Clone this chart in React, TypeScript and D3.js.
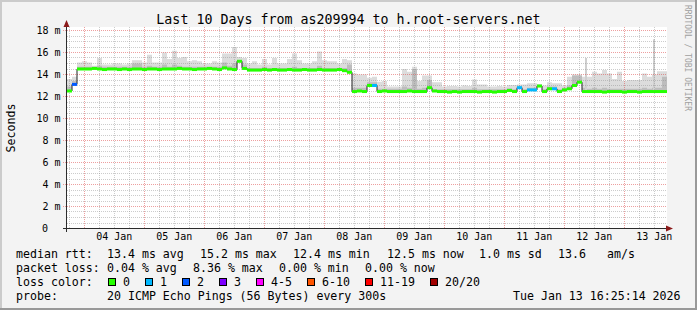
import React from "react";
import * as d3 from "d3";

// ---- data (values in milliseconds, one bin every 2 hours) ----
const startTime = new Date(Date.UTC(2026, 0, 3, 17, 5));
const endTime = new Date(Date.UTC(2026, 0, 13, 17, 5));
const binHours = 2;

const medianRtt = [
  12.5, 13.1, 14.5, 14.5, 14.5, 14.55, 14.5, 14.45, 14.5, 14.5,
  14.45, 14.5, 14.45, 14.5, 14.5, 14.45, 14.5, 14.5, 14.45, 14.5,
  14.5, 14.5, 14.55, 14.5, 14.5, 14.45, 14.5, 14.5, 14.55, 14.5,
  14.45, 14.6, 14.5, 14.45, 15.2, 14.55, 14.4, 14.4, 14.4, 14.45,
  14.4, 14.45, 14.4, 14.4, 14.45, 14.4, 14.4, 14.45, 14.4, 14.4,
  14.45, 14.4, 14.4, 14.4, 14.45, 14.35, 14.2, 12.45, 12.5, 12.45,
  13.0, 13.0, 12.45, 12.5, 12.45, 12.45, 12.45, 12.45, 12.5, 12.45,
  12.45, 12.45, 12.8, 12.5, 12.45, 12.45, 12.4, 12.45, 12.4, 12.45,
  12.45, 12.45, 12.4, 12.45, 12.45, 12.4, 12.45, 12.45, 12.55, 12.45,
  12.8, 12.45, 12.6, 12.6, 12.95, 12.45, 12.7, 12.7, 12.45, 12.6,
  12.7, 13.0, 13.3, 12.45, 12.45, 12.45, 12.45, 12.4, 12.45, 12.45,
  12.45, 12.4, 12.45, 12.45, 12.4, 12.45, 12.45, 12.45, 12.45, 12.45,
];

const smokeTop = [
  13.6, 13.8, 15.1, 15.2, 15.1, 14.8, 15.5, 14.9, 14.9, 15.0,
  15.0, 14.9, 15.0, 15.3, 15.3, 15.1, 15.8, 15.1, 15.1, 16.0,
  15.4, 16.15, 15.5, 15.6, 15.2, 15.3, 15.2, 15.0, 15.0, 15.2,
  15.1, 15.9, 15.9, 16.5, 15.6, 15.5, 15.0, 15.2, 14.9, 15.4,
  14.9, 15.5, 15.0, 15.0, 15.4, 15.9, 15.3, 15.0, 15.0, 15.2,
  16.1, 15.3, 15.2, 15.2, 15.0, 15.4, 15.3, 14.1, 14.0, 14.0,
  13.7, 13.8, 13.35, 13.4, 12.9, 12.9, 12.9, 14.5, 14.25, 14.7,
  13.4, 13.9, 13.9, 13.3, 13.3, 12.9, 12.95, 12.95, 12.9, 13.0,
  12.95, 13.55, 13.1, 13.1, 12.9, 12.9, 12.95, 12.9, 13.05, 13.05,
  13.1, 13.1, 13.2, 13.2, 13.1, 13.0, 13.3, 13.2, 13.2, 13.0,
  13.8, 14.0, 14.0, 13.8, 13.8, 14.25, 14.1, 14.4, 14.1, 13.6,
  14.25, 13.4, 13.5, 13.5, 13.5, 14.1, 13.8, 14.0, 14.3, 14.3,
];

const smokeMid = [
  12.9, 13.4, 14.7, 14.7, 14.7, 14.7, 14.8, 14.7, 14.7, 14.7,
  14.7, 14.7, 14.7, 15.0, 15.0, 14.7, 14.8, 14.7, 14.7, 14.9,
  14.7, 14.9, 14.8, 14.7, 14.7, 14.7, 14.7, 14.7, 14.7, 14.7,
  14.7, 15.1, 14.8, 15.0, 15.3, 14.9, 14.6, 14.6, 14.6, 14.7,
  14.6, 14.6, 14.6, 14.6, 14.6, 14.7, 14.6, 14.6, 14.6, 14.6,
  14.8, 14.6, 14.6, 14.6, 14.6, 14.6, 14.9, 12.8, 12.8, 12.8,
  13.3, 13.3, 12.7, 12.7, 12.7, 12.7, 12.7, 12.9, 12.8, 14.5,
  12.7, 12.8, 13.5, 12.65, 12.65, 12.65, 12.65, 12.65, 12.65, 12.65,
  12.65, 12.8, 12.65, 12.65, 12.65, 12.65, 12.65, 12.65, 12.75, 12.65,
  12.95, 12.65, 12.8, 12.8, 13.1, 12.65, 12.9, 12.9, 12.65, 12.8,
  13.0, 13.9, 13.9, 12.8, 12.7, 12.8, 12.7, 12.8, 12.7, 12.7,
  12.7, 12.7, 12.7, 12.7, 12.7, 12.8, 12.7, 12.8, 12.8, 13.8,
];

// narrow single-sample smoke spikes: [time, max ms]
const smokeSpikes: [string, number][] = [
  ["2026-01-12T08:40:00Z", 15.5],
  ["2026-01-13T11:50:00Z", 17.2],
];

// bins with packet loss: [bin index, lost pings]
const lossEvents: [number, number][] = [
  [1, 2], [61, 1], [90, 1], [92, 1], [93, 1], [97, 1],
];

const yTicks = [0, 2, 4, 6, 8, 10, 12, 14, 16, 18];

const lossLabels = ["0", "1", "2", "3", "4-5", "6-10", "11-19", "20/20"];
const lossColors = ["#26ff00", "#00b8ff", "#0059ff", "#7e00ff", "#ff00ff", "#ff5500", "#ff0000", "#a10000"];
const lossBoxX = [108, 145, 182, 219, 256, 307, 365, 430];

const statsRtt: [number, string][] = [
  [16, "median rtt:"], [107, "13.4 ms avg"], [200, "15.2 ms max"], [293, "12.4 ms min"],
  [387, "12.5 ms now"], [479, "1.0 ms sd"], [558, "13.6"], [607, "am/s"],
];
const statsLoss: [number, string][] = [
  [16, "packet loss:"], [107, "0.04 % avg"], [193, "8.36 % max"], [279, "0.00 % min"], [365, "0.00 % now"],
];
const probeRow: [number, string][] = [
  [16, "probe:"], [107, "20 ICMP Echo Pings (56 Bytes) every 300s"], [513, "Tue Jan 13 16:25:14 2026"],
];

const W = 697;
const H = 310;
const FONT = "DejaVu Sans Mono";

function lossColor(n: number) {
  if (n <= 0) return lossColors[0];
  if (n === 1) return lossColors[1];
  if (n === 2) return lossColors[2];
  if (n === 3) return lossColors[3];
  if (n <= 5) return lossColors[4];
  if (n <= 10) return lossColors[5];
  if (n <= 19) return lossColors[6];
  return lossColors[7];
}

export default function App() {
  const x = d3.scaleUtc().domain([startTime, endTime]).range([67, 667]);
  const y = d3.scaleLinear().domain([0, 18]).range([228.5, 30.5]);
  const crisp = (v: number) => Math.round(v - 0.5) + 0.5;

  const bins = medianRtt.map((m, i) => ({
    t0: d3.utcHour.offset(startTime, i * binHours),
    t1: d3.utcHour.offset(startTime, (i + 1) * binHours),
    median: m,
    top: smokeTop[i],
    mid: smokeMid[i],
    loss: 0,
  }));
  lossEvents.forEach(([i, n]) => (bins[i].loss = n));

  const stepPts = [...bins.map((b) => [x(b.t0), b]), [x(endTime), bins[bins.length - 1]]] as [number, any][];

  const areaTop = d3
    .area<[number, any]>()
    .curve(d3.curveStepAfter)
    .x((d) => d[0])
    .y0((d) => y(d[1].median))
    .y1((d) => y(d[1].top));
  const areaMid = d3
    .area<[number, any]>()
    .curve(d3.curveStepAfter)
    .x((d) => d[0])
    .y0((d) => y(d[1].median))
    .y1((d) => y(d[1].mid));
  const medLine = d3
    .line<[number, any]>()
    .curve(d3.curveStepAfter)
    .x((d) => d[0])
    .y((d) => y(d[1].median));

  const days = d3.utcDay.range(startTime, endTime);
  const sixHours = d3.utcHour.every(6)!.range(startTime, endTime).filter((t) => t.getUTCHours() !== 0);
  const minorY = d3.range(0.5, 18.01, 0.5).filter((v) => v % 2 !== 0);

  return (
    <svg
      width={W}
      height={H}
      style={{ position: "fixed", left: 0, top: 0, display: "block" }}
      fontFamily={FONT}
    >
      <rect x={0} y={0} width={W} height={H} fill="#f3f3f3" />
      <rect x={0} y={0} width={W} height={2} fill="#cbcbcb" />
      <rect x={0} y={0} width={2} height={H} fill="#cbcbcb" />
      <rect x={0} y={H - 2} width={W} height={2} fill="#999999" />
      <rect x={W - 2} y={0} width={2} height={H} fill="#999999" />

      {/* canvas */}
      <rect x={67} y={27} width={600} height={202} fill="#ffffff" />

      {/* smoke */}
      <path d={areaTop(stepPts) || ""} fill="#dcdcdc" />
      <path d={areaMid(stepPts) || ""} fill="#bdbdbd" />
      {smokeSpikes.map(([t, v], i) => {
        const tx = x(new Date(t));
        const b = bins[Math.floor((tx - 67) / 5)];
        return <rect key={i} x={Math.round(tx) - 1} y={y(v)} width={2} height={y(b.median) - y(v)} fill="#cfcfcf" />;
      })}

      {/* grid */}
      {minorY.map((v) => (
        <line key={"my" + v} x1={67} x2={667} y1={crisp(y(v))} y2={crisp(y(v))} stroke="#8f8f8f" strokeOpacity={0.45} strokeDasharray="1,1" />
      ))}
      {sixHours.map((t) => (
        <line key={"mx" + +t} x1={crisp(x(t))} x2={crisp(x(t))} y1={27} y2={229} stroke="#8f8f8f" strokeOpacity={0.45} strokeDasharray="1,1" />
      ))}
      {yTicks.filter((v) => v > 0).map((v) => (
        <line key={"My" + v} x1={63} x2={667} y1={crisp(y(v))} y2={crisp(y(v))} stroke="#de5050" strokeOpacity={0.55} strokeDasharray="1,1" />
      ))}
      {days.map((t) => (
        <line key={"Mx" + +t} x1={crisp(x(t))} x2={crisp(x(t))} y1={27} y2={229} stroke="#de5050" strokeOpacity={0.55} strokeDasharray="1,1" />
      ))}

      {/* median */}
      <path d={medLine(stepPts) || ""} fill="none" stroke="#202020" strokeWidth={1} />
      {bins.map((b, i) => (
        <line
          key={"seg" + i}
          x1={x(b.t0)}
          x2={x(b.t1)}
          y1={y(b.median)}
          y2={y(b.median)}
          stroke={lossColor(b.loss)}
          strokeWidth={3}
        />
      ))}

      {/* axes */}
      <line x1={63} x2={668} y1={228.5} y2={228.5} stroke="#2c2c2c" />
      <line x1={66.5} x2={66.5} y1={232} y2={26} stroke="#2c2c2c" />
      <path d="M666,225.5 L673,228.5 L666,231.5 Z" fill="#8b1a1a" />
      <path d="M63.5,27 L66.5,20 L69.5,27 Z" fill="#8b1a1a" />

      {/* y labels */}
      {yTicks.map((v) => (
        <text key={"yl" + v} x={v === 0 ? 48 : 60.5} y={y(v) + 3.5} fontSize={10} textAnchor="end" fill="#000">
          {v === 0 ? "0" : `${v} m`}
        </text>
      ))}
      {/* x labels */}
      {days.map((t) => (
        <text key={"xl" + +t} x={x(d3.utcHour.offset(t, 12))} y={240} fontSize={10} textAnchor="middle" fill="#000">
          {d3.utcFormat("%d %b")(t)}
        </text>
      ))}

      {/* titles */}
      <text x={348.5} y={24} fontSize={13.3} textAnchor="middle" fill="#000">
        Last 10 Days from as209994 to h.root-servers.net
      </text>
      <text transform="translate(15,128) rotate(-90)" fontSize={11.6} textAnchor="middle" fill="#000">
        Seconds
      </text>
      <text transform="translate(685,5) rotate(90)" fontSize={8} fill="#a0a0a0">
        RRDTOOL / TOBI OETIKER
      </text>

      {/* legend */}
      {statsRtt.map(([px, s]) => (
        <text key={"r" + px} x={px} y={258} fontSize={11.6} fill="#000" style={{ whiteSpace: "pre" }}>{s}</text>
      ))}
      {statsLoss.map(([px, s]) => (
        <text key={"l" + px} x={px} y={272} fontSize={11.6} fill="#000" style={{ whiteSpace: "pre" }}>{s}</text>
      ))}
      <text x={16} y={286} fontSize={11.6} fill="#000">loss color:</text>
      {lossLabels.map((lab, i) => (
        <g key={"lc" + i}>
          <rect x={lossBoxX[i] + 0.5} y={278.5} width={7} height={7} fill={lossColors[i]} stroke="#000" />
          <text x={lossBoxX[i] + 15} y={286} fontSize={11.6} fill="#000">{lab}</text>
        </g>
      ))}
      {probeRow.map(([px, s]) => (
        <text key={"p" + px} x={px} y={300} fontSize={11.6} fill="#000" style={{ whiteSpace: "pre" }}>{s}</text>
      ))}
    </svg>
  );
}
